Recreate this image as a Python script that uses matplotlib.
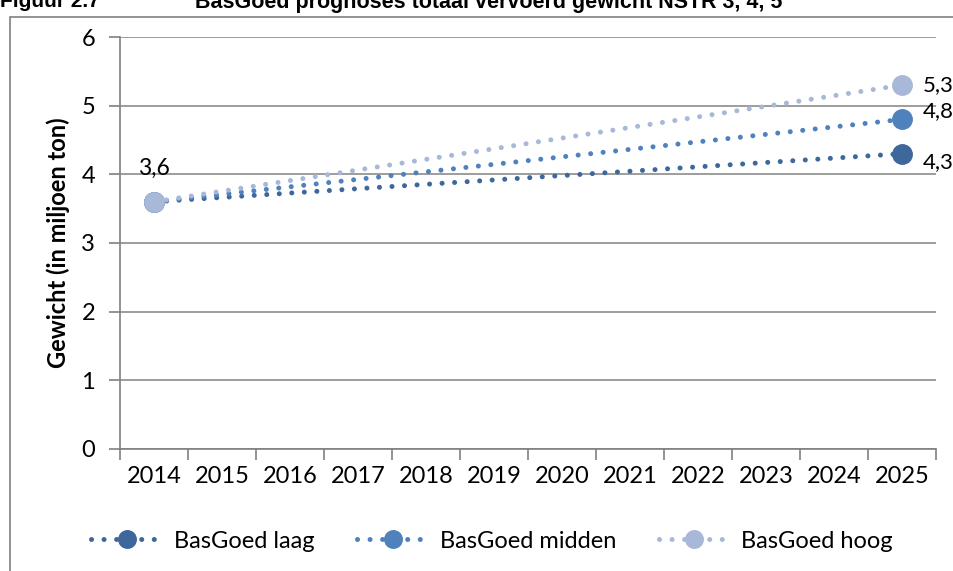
import numpy as np
from matplotlib import pyplot as plt
from matplotlib.patches import Rectangle

plt.rcParams['font.family'] = ['Lato', 'DejaVu Sans']

years = ['2014', '2015', '2016', '2017', '2018', '2019', '2020', '2021', '2022', '2023', '2024', '2025']
laag = [3.6, 4.3]
midden = [3.6, 4.8]
hoog = [3.6, 5.3]
names = ['BasGoed laag', 'BasGoed midden', 'BasGoed hoog']
colors = ['#3e679b', '#4f81bd', '#a8b8d8']

fig = plt.figure(figsize=(9.54, 5.71), dpi=100)
ax = fig.add_axes([0.1258, 0.2137, 0.8553, 0.7215])

# outer frame of the figure box
fig.patches.append(Rectangle((10/954, -0.01), 1.0, (571-17)/571 + 0.01, transform=fig.transFigure,
                             fill=False, edgecolor='#808080', linewidth=1.2))
fig.text(0.0, 1.0 + 0.014, 'Figuur 2.7', fontsize=15, fontweight='bold', va='top', ha='left',
         family='Liberation Sans')
fig.text(195/954, 1.0 + 0.014, 'BasGoed prognoses totaal vervoerd gewicht NSTR 3, 4, 5',
         fontsize=15.5, fontweight='bold', va='top', ha='left', family='Liberation Sans')

xs = [0, len(years) - 1]
handles = []
for vals, name, c in zip([laag, midden, hoog], names, colors):
    h, = ax.plot(xs, vals, linestyle=(0, (0.01, 2.5)), dash_capstyle='round', linewidth=3.6,
                 color=c, marker='o', markersize=14, label=name, zorder=3)
    handles.append(h)

ax.text(0, 3.6 + 0.33, '3,6', fontsize=16.5, ha='center', va='bottom')
ax.text(11.3, 5.3, '5,3', fontsize=16, ha='left', va='center', clip_on=False)
ax.text(11.3, 4.8 + 0.12, '4,8', fontsize=16, ha='left', va='center', clip_on=False)
ax.text(11.3, 4.3 - 0.12, '4,3', fontsize=16, ha='left', va='center', clip_on=False)

ax.set_xlim(-0.5, 11.5)
ax.set_ylim(0, 6)
ax.set_xticks(range(len(years)))
ax.set_xticklabels(years, fontsize=17)
ax.set_xticks(np.arange(-0.5, 12, 1), minor=True)
ax.tick_params(axis='x', which='major', length=0, pad=12)
ax.tick_params(axis='x', which='minor', length=8, color='#808080', direction='out', width=1.2)
ax.set_yticks(range(7))
ax.set_yticklabels([str(i) for i in range(7)], fontsize=17)
ax.tick_params(axis='y', length=8, color='#808080', pad=10, width=1.2)
ax.grid(axis='y', color='#8c8c8c', linewidth=1.2)
ax.set_axisbelow(True)
for s in ['top', 'right']:
    ax.spines[s].set_visible(False)
for s in ['left', 'bottom']:
    ax.spines[s].set_color('#808080')
    ax.spines[s].set_linewidth(1.2)
ax.set_ylabel('Gewicht (in miljoen ton)', fontsize=17, fontweight='bold', labelpad=8)

fig.legend(handles=handles, loc='center', bbox_to_anchor=(0.516, 1 - 541/571), ncol=3,
           frameon=False, fontsize=17, handlelength=3.0, handletextpad=0.5,
           columnspacing=1.8, markerscale=0.9)

fig.savefig('out.png', dpi=100)
